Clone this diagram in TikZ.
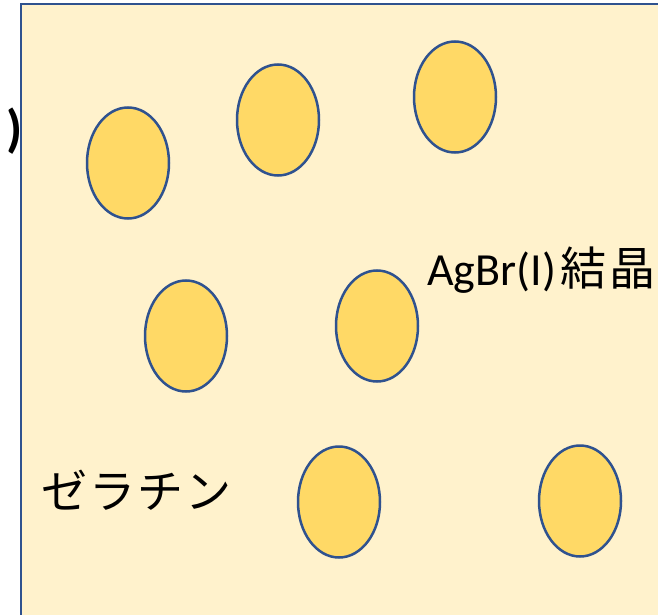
\documentclass[tikz,border=0pt]{standalone}
\usepackage{fontspec}
\usetikzlibrary{shapes.geometric}
\setmainfont{Carlito}
\newfontfamily\jpfont{Noto Sans CJK JP}
\definecolor{edgeblue}{HTML}{2F528F}
\definecolor{bgyellow}{HTML}{FFF2CC}
\definecolor{grain}{HTML}{FFD966}
\begin{document}
\begin{tikzpicture}[x=1pt,y=-1pt,
  grainstyle/.style={ellipse,draw=edgeblue,fill=grain,line width=2.5pt,minimum width=82pt,minimum height=111pt,inner sep=0pt},
  labelstyle/.style={font=\fontsize{46}{52}\selectfont,inner sep=0pt}]
\useasboundingbox (0,0) rectangle (658,615);
\begin{scope}
\clip (0,0) rectangle (658,615);
\draw[edgeblue,fill=bgyellow,line width=2.6pt] (21,4) rectangle (680,640);
\end{scope}
\node[grainstyle] (g1) at (128,163) {};
\node[grainstyle] (g2) at (278,120) {};
\node[grainstyle] (g3) at (455,97) {};
\node[grainstyle] (g4) at (186,336) {};
\node[grainstyle] (g5) at (377,326) {};
\node[grainstyle] (g6) at (339,502) {};
\node[grainstyle] (g7) at (580,501) {};
\node[labelstyle,anchor=base west] (agbr) at (427,285) {AgBr(I){\jpfont\hspace{4pt}結\hspace{3pt}晶}};
\node[labelstyle,anchor=west] (gel) at (41,490) {\jpfont ゼ\hspace{2pt}ラ\hspace{2pt}チ\hspace{2pt}ン};
\node[labelstyle,anchor=center,font=\fontsize{52}{56}\selectfont\bfseries] (par) at (15,131) {)};
\end{tikzpicture}
\end{document}
